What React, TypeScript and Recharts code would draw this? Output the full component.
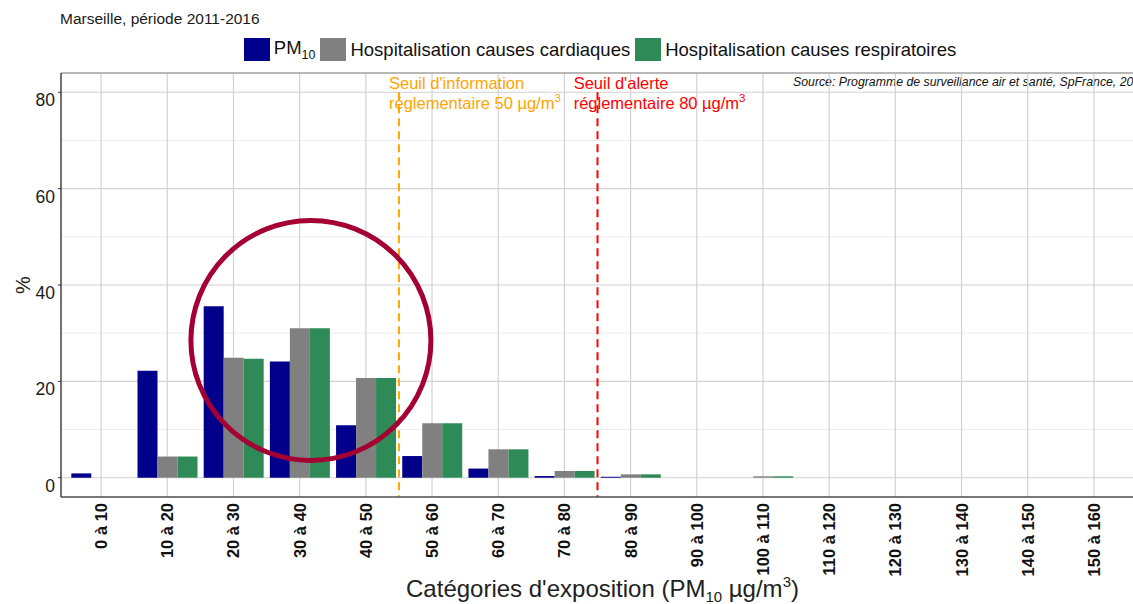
import React from 'react';
import { BarChart, Bar, XAxis, YAxis, CartesianGrid, ReferenceLine, ReferenceDot } from 'recharts';

const categories = ['0 à 10', '10 à 20', '20 à 30', '30 à 40', '40 à 50', '50 à 60', '60 à 70', '70 à 80', '80 à 90', '90 à 100', '100 à 110', '110 à 120', '120 à 130', '130 à 140', '140 à 150', '150 à 160'];
const pm10 = [0.9, 22.2, 35.6, 24.1, 10.9, 4.5, 1.9, 0.35, 0.2, 0, 0, 0, 0, 0, 0, 0];
const cardiaques = [0, 4.4, 24.9, 31.0, 20.7, 11.3, 5.9, 1.4, 0.7, 0, 0.3, 0, 0, 0, 0, 0];
const respiratoires = [0, 4.4, 24.7, 31.0, 20.7, 11.3, 5.9, 1.4, 0.7, 0, 0.3, 0, 0, 0, 0, 0];
const yTicks = [0, 20, 40, 60, 80];
const yMinor = [10, 30, 50, 70];
const seuilInfo = 50;
const seuilAlerte = 80;

const FONT = '"Liberation Sans", Arial, sans-serif';
const C_PM = '#00008B';
const C_CARD = '#808080';
const C_RESP = '#2E8B57';
const C_INFO = '#FFA500';
const C_ALERT = '#FF0000';
const C_CIRCLE = '#A50034';

// pos: continuous position of each bin centre, bin i spans [i, i+1] (i.e. µg/m³ / 10)
const data = categories.map((c, i) => ({ cat: c, pos: i + 0.5, pm10: pm10[i], card: cardiaques[i], resp: respiratoires[i] }));
const toPos = (v: number) => v / 10;

const XTick = (props: any) => {
  const { x, y, payload } = props;
  return (
    <g transform={`translate(${x},${y})`}>
      <text transform="rotate(-90)" textAnchor="end" dominantBaseline="central" fontWeight="bold" fontSize={16.5} fill="#111" fontFamily={FONT}>
        {payload.value}
      </text>
    </g>
  );
};

const YTick = (props: any) => {
  const { x, y, payload } = props;
  return (
    <text x={x} y={y + 8} textAnchor="end" dominantBaseline="central" fontSize={17.5} fill="#1a1a1a" fontFamily={FONT}>
      {payload.value}
    </text>
  );
};

const ThresholdLabel = (props: any) => {
  const { viewBox, line1, value, color } = props;
  const x = viewBox.x + viewBox.width / 2;
  const y = viewBox.y + viewBox.height / 2;
  return (
    <text x={x} y={y} fill={color} fontSize={16.5} fontFamily={FONT} textAnchor="start">
      <tspan x={x} dy="0.35em">{line1}</tspan>
      <tspan x={x} dy={20}>{`réglementaire ${value} µg/m`}</tspan>
      <tspan fontSize={11.5} dy={-7}>3</tspan>
    </text>
  );
};

const legendItems = [
  { key: 'pm', color: C_PM, label: <span>PM<span style={{ fontSize: 12.5, position: 'relative', top: 5 }}>10</span></span> },
  { key: 'card', color: C_CARD, label: <span>Hospitalisation causes cardiaques</span> },
  { key: 'resp', color: C_RESP, label: <span>Hospitalisation causes respiratoires</span> },
];

export default function App() {
  return (
    <div style={{ position: 'fixed', left: 0, top: 0, width: 1133, height: 604, overflow: 'hidden', background: '#fff', fontFamily: FONT }}>
      <div style={{ position: 'absolute', left: 60, top: 10, fontSize: 15.5, color: '#1a1a1a', whiteSpace: 'nowrap' }}>
        Marseille, période 2011-2016
      </div>
      <div style={{ position: 'absolute', left: 61, top: 36, width: 1083, display: 'flex', justifyContent: 'center', alignItems: 'center', fontSize: 18.5, color: '#111', whiteSpace: 'nowrap' }}>
        {legendItems.map((it) => (
          <div key={it.key} style={{ display: 'flex', alignItems: 'center', marginRight: 5 }}>
            <div style={{ width: 26, height: 23, background: it.color, marginRight: 4 }} />
            <div style={{ lineHeight: '23px' }}>{it.label}</div>
          </div>
        ))}
      </div>
      <div style={{ position: 'absolute', left: 793, top: 75, fontSize: 12.3, fontStyle: 'italic', color: '#111', whiteSpace: 'nowrap' }}>
        Source: Programme de surveillance air et santé, SpFrance, 2018
      </div>
      <div style={{ position: 'absolute', left: 23, top: 285, transform: 'translate(-50%, -50%) rotate(-90deg)', fontSize: 20, color: '#222' }}>
        %
      </div>
      <div style={{ position: 'absolute', left: 61, width: 1083, top: 576, height: 26, lineHeight: '26px', textAlign: 'center', fontSize: 24, color: '#222', whiteSpace: 'nowrap' }}>
        Catégories d'exposition (PM<span style={{ fontSize: 15, position: 'relative', top: 5 }}>10</span> µg/m<span style={{ fontSize: 15, position: 'relative', top: -10 }}>3</span>)
      </div>
      <div style={{ position: 'absolute', left: 0, top: 0 }}>
        <BarChart width={1140} height={604} data={data} margin={{ top: 73, right: 6, bottom: 27, left: 21 }} barCategoryGap="5%" barGap={0}>
          <CartesianGrid horizontalValues={yMinor} vertical={false} stroke="#ececec" strokeWidth={1} />
          <CartesianGrid stroke="#d2d2d2" strokeWidth={1.2} />
          <XAxis dataKey="cat" interval={0} tick={<XTick />} tickLine={false} tickSize={0} tickMargin={6} height={80} padding={{ left: 7, right: 7 }} axisLine={{ stroke: '#555', strokeWidth: 1.3 }} />
          <XAxis xAxisId="num" dataKey="pos" type="number" domain={['dataMin', 'dataMax']} padding={{ left: 40.1, right: 40.1 }} hide />
          <YAxis domain={[-4, 84]} ticks={yTicks} allowDataOverflow width={40} tick={<YTick />} tickSize={3} tickMargin={3} tickLine={{ stroke: '#333' }} axisLine={{ stroke: '#333', strokeWidth: 1.3 }} />
          <Bar dataKey="pm10" fill={C_PM} isAnimationActive={false} />
          <Bar dataKey="card" fill={C_CARD} isAnimationActive={false} />
          <Bar dataKey="resp" fill={C_RESP} isAnimationActive={false} />
          <ReferenceLine y={84} stroke="#a8a8a8" strokeWidth={1.5} />
          <ReferenceLine xAxisId="num" segment={[{ x: toPos(seuilInfo), y: 80 }, { x: toPos(seuilInfo), y: -4 }]} stroke={C_INFO} strokeWidth={2} strokeDasharray="8 5" />
          <ReferenceLine xAxisId="num" segment={[{ x: toPos(seuilAlerte), y: 80 }, { x: toPos(seuilAlerte), y: -4 }]} stroke={C_ALERT} strokeWidth={2} strokeDasharray="8 5" />
          <ReferenceDot xAxisId="num" x={4.85} y={81.8} r={1} fill="none" stroke="none" label={<ThresholdLabel line1="Seuil d'information" value={seuilInfo} color={C_INFO} />} />
          <ReferenceDot xAxisId="num" x={7.64} y={81.8} r={1} fill="none" stroke="none" label={<ThresholdLabel line1="Seuil d'alerte" value={seuilAlerte} color={C_ALERT} />} />
          <ReferenceDot xAxisId="num" x={3.67} y={28.5} r={120} fill="none" stroke={C_CIRCLE} strokeWidth={5} />
        </BarChart>
      </div>
    </div>
  );
}
